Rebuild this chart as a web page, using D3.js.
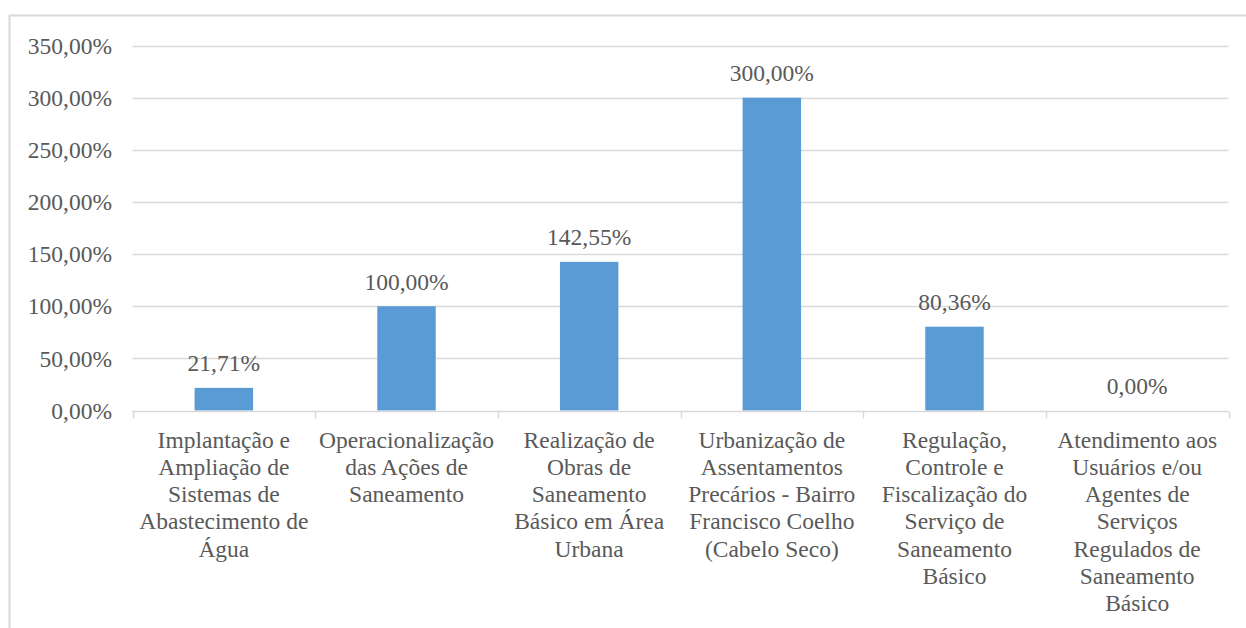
<!DOCTYPE html>
<html>
<head>
<meta charset="utf-8">
<script src="https://cdn.jsdelivr.net/npm/d3@7"></script>
<style>
  html, body { margin: 0; padding: 0; background: #fff; }
  svg { display: block; }
</style>
</head>
<body>
<svg id="chart" width="1246" height="628"></svg>
<script>
// Programas de saneamento: percentual de execução
const categories = [
  ["Implantação e", "Ampliação de", "Sistemas de", "Abastecimento de", "Água"],
  ["Operacionalização", "das Ações de", "Saneamento"],
  ["Realização de", "Obras de", "Saneamento", "Básico em Área", "Urbana"],
  ["Urbanização de", "Assentamentos", "Precários - Bairro", "Francisco Coelho", "(Cabelo Seco)"],
  ["Regulação,", "Controle e", "Fiscalização do", "Serviço de", "Saneamento", "Básico"],
  ["Atendimento aos", "Usuários e/ou", "Agentes de", "Serviços", "Regulados de", "Saneamento", "Básico"]
];
const values = [21.71, 100.00, 142.55, 300.00, 80.36, 0.00];
const yTicks = [0, 50, 100, 150, 200, 250, 300, 350];

const fmt = v => v.toFixed(2).replace(".", ",") + "%";

const svg = d3.select("#chart");
const font = '"Liberation Serif", "Times New Roman", serif';
const textColor = "#595959";
const fs = 23.5;

// outer chart frame
svg.append("rect")
  .attr("x", 9.5).attr("y", 15.5)
  .attr("width", 1246).attr("height", 628)
  .attr("fill", "none").attr("stroke", "#d9d9d9").attr("stroke-width", 2);

const plot = { left: 132.5, right: 1228.5, top: 45.5, bottom: 410.5 };

const x = d3.scaleBand()
  .domain(d3.range(categories.length))
  .range([plot.left, plot.right])
  .paddingInner(0.68).paddingOuter(0.34);

const xOuter = d3.scaleBand()
  .domain(d3.range(categories.length))
  .range([plot.left, plot.right]);

const y = d3.scaleLinear().domain([0, 350]).range([plot.bottom, plot.top]);

// gridlines
svg.append("g")
  .selectAll("line")
  .data(yTicks.filter(t => t > 0))
  .join("line")
  .attr("x1", plot.left).attr("x2", plot.right)
  .attr("y1", d => Math.round(y(d)) + 0.5).attr("y2", d => Math.round(y(d)) + 0.5)
  .attr("stroke", "#d9d9d9").attr("stroke-width", 1.5);

// y axis labels
const yAxis = d3.axisLeft(y).tickValues(yTicks).tickFormat(fmt).tickSize(0).tickPadding(0);
const gy = svg.append("g").attr("transform", `translate(112,0)`).call(yAxis);
gy.select(".domain").remove();
gy.selectAll("text")
  .style("font-family", font).style("font-size", fs + "px").attr("fill", textColor)
  .attr("dy", "0.33em");

// bars
svg.append("g")
  .selectAll("rect")
  .data(values)
  .join("rect")
  .attr("x", (d, i) => x(i))
  .attr("width", x.bandwidth())
  .attr("y", d => y(d))
  .attr("height", d => y(0) - y(d))
  .attr("fill", "#5b9bd5");

// x axis with category-boundary ticks
const axisY = Math.round(y(0)) + 0.5;
const gx = svg.append("g");
gx.append("line")
  .attr("x1", plot.left).attr("x2", plot.right)
  .attr("y1", axisY).attr("y2", axisY)
  .attr("stroke", "#d9d9d9").attr("stroke-width", 1.5);
const bounds = d3.range(categories.length + 1).map(i =>
  i < categories.length ? xOuter(i) : xOuter(i - 1) + xOuter.bandwidth());
gx.selectAll("line.tick")
  .data(bounds)
  .join("line")
  .attr("class", "tick")
  .attr("x1", d => Math.round(d) + 0.5).attr("x2", d => Math.round(d) + 0.5)
  .attr("y1", axisY).attr("y2", axisY + 7)
  .attr("stroke", "#d9d9d9").attr("stroke-width", 1.5);

// category labels
const lineH = 27.3;
gx.selectAll("text.cat")
  .data(categories)
  .join("text")
  .attr("class", "cat")
  .style("font-family", font).style("font-size", fs + "px").attr("fill", textColor)
  .attr("text-anchor", "middle")
  .each(function (lines, i) {
    const t = d3.select(this);
    lines.forEach((ln, k) => {
      t.append("tspan")
        .attr("x", xOuter(i) + xOuter.bandwidth() / 2)
        .attr("y", 447.5 + k * lineH)
        .text(ln);
    });
  });

// value labels
svg.append("g")
  .selectAll("text")
  .data(values)
  .join("text")
  .attr("x", (d, i) => x(i) + x.bandwidth() / 2)
  .attr("y", d => y(d) - 16.5)
  .attr("text-anchor", "middle")
  .style("font-family", font).style("font-size", fs + "px").attr("fill", textColor)
  .text(fmt);
</script>
</body>
</html>
